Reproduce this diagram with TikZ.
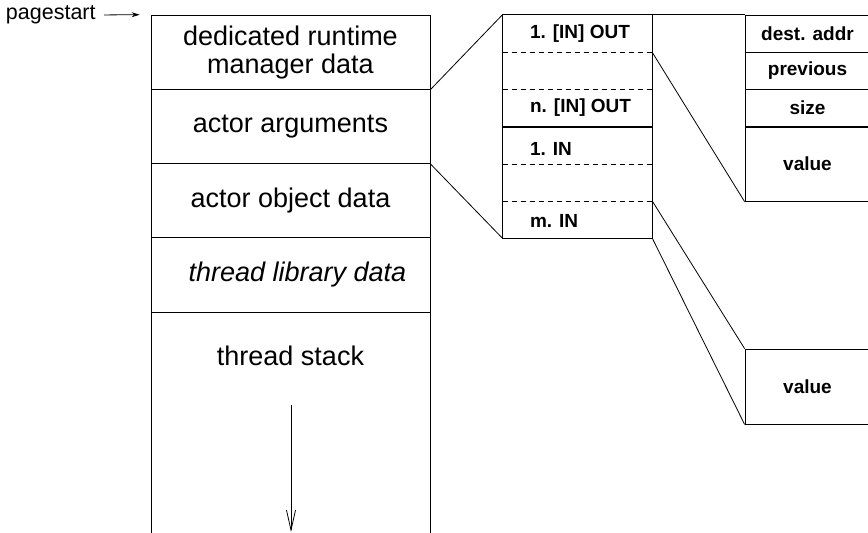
\documentclass[tikz,border=0pt]{standalone}
\usepackage{fontspec}
\setmainfont{Liberation Sans}
\usepackage{tikz}
\usetikzlibrary{arrows.meta}
\usetikzlibrary{positioning}

\begin{document}
\begin{tikzpicture}[x=1pt, y=-1pt, line width=0.8pt]
    \tikzset{memrow/.style = {draw, minimum width=279pt, minimum height=74.25pt, inner sep=0pt, align=center, font=\fontsize{27}{28}\selectfont}}
    \tikzset{argcell/.style = {minimum width=149pt, minimum height=37.17pt, inner sep=0pt}}
    \tikzset{arglabel/.style = {inner xsep=0pt, font=\fontsize{19}{20}\selectfont\bfseries}}
    \tikzset{fieldcell/.style = {draw, minimum width=125pt, minimum height=37.17pt, inner sep=0pt, font=\fontsize{19}{20}\selectfont\bfseries}}
    \tikzset{startptr/.style = {-{Stealth[length=8pt,width=5pt]}}}
    \tikzset{growptr/.style = {-{Straight Barb[length=20pt,width=9pt]}}}

    \useasboundingbox (0,0) rectangle (868,533);
    \clip (0,0) rectangle (868,533);

    % memory page
    \node[font=\fontsize{21.5}{22}\selectfont, anchor=east, inner sep=0pt] (pagestart) at (96,15) {pagestart};
    \node[memrow] (mgr) at (290.5,52.125) {dedicated runtime\\manager data};
    \node[memrow] (args) at (290.5,126.375) {actor arguments};
    \node[memrow] (obj) at (290.5,200.625) {actor object data};
    \node[memrow] (thrlib) at (290.5,274.875) {\hspace*{14pt}\itshape thread library data};
    \node[memrow, minimum height=260pt] (stack) at (290.5,442) {};
    \node[font=\fontsize{27}{28}\selectfont] (stacklabel) at (290.5,356) {thread stack};
    \coordinate (growtop) at (291,405);
    \coordinate (growend) at (291,532);

    % argument table
    \node[argcell] (out1) at (577.5,33.58) {};
    \node[argcell] (outdots) at (577.5,70.75) {};
    \node[argcell] (outn) at (577.5,107.92) {};
    \node[argcell] (in1) at (577.5,145.08) {};
    \node[argcell] (indots) at (577.5,182.25) {};
    \node[argcell] (inm) at (577.5,219.42) {};
    \draw (out1.north west) rectangle (outn.south east);
    \draw (in1.north west) rectangle (inm.south east);
    \draw[dash pattern=on 5pt off 4pt] (out1.south west) -- (out1.south east);
    \draw[dash pattern=on 5pt off 4pt] (outdots.south west) -- (outdots.south east);
    \draw[dash pattern=on 5pt off 4pt] (in1.south west) -- (in1.south east);
    \draw[dash pattern=on 5pt off 4pt] (indots.south west) -- (indots.south east);
    \node[arglabel, right=27pt of out1.west] (out1txt) {1. [IN] OUT};
    \node[arglabel, right=27pt of outn.west] (outntxt) {n. [IN] OUT};
    \node[arglabel, right=27pt of in1.west, yshift=-4pt] (in1txt) {1. IN};
    \node[arglabel, right=27pt of inm.west, yshift=-2pt] (inmtxt) {m. IN};

    % argument fields
    \node[fieldcell] (dest) at (807.5,33.58) {dest. addr};
    \node[fieldcell] (prev) at (807.5,70.75) {previous};
    \node[fieldcell] (size) at (807.5,107.92) {size};
    \node[fieldcell, minimum height=74.33pt] (value) at (807.5,164.08) {value};
    \node[fieldcell, minimum height=75pt] (value2) at (807.5,386.5) {value};

    % edges
    \draw[startptr, shorten <=8pt, shorten >=11pt] (pagestart.east) -- (mgr.north west);
    \draw[growptr] (growtop) -- (growend);
    \draw (mgr.south east) -- (out1.north west);
    \draw (args.south east) -- (inm.south west);
    \draw (out1.north east) -- (dest.north west);
    \draw (out1.south east) -- (value.south west);
    \draw (indots.south east) -- (value2.north west);
    \draw (inm.south east) -- (value2.south west);
\end{tikzpicture}
\end{document}
